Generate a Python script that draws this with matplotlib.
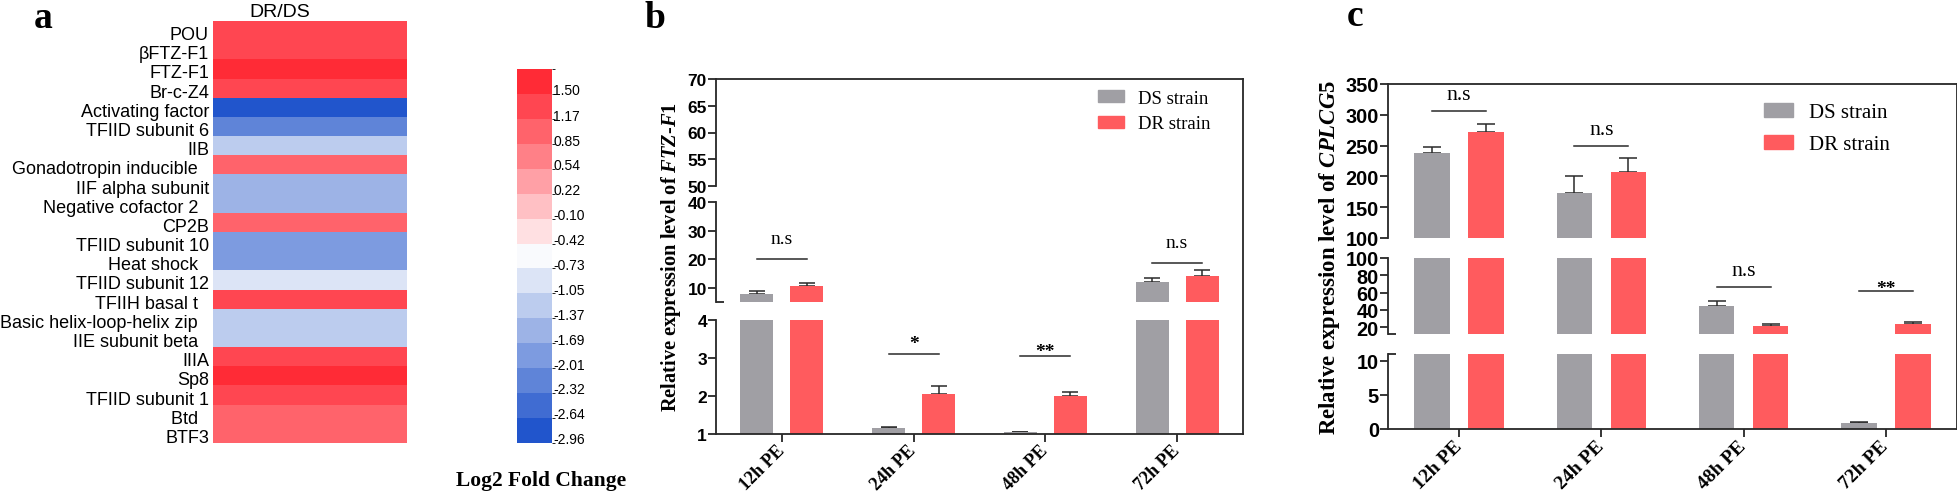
import numpy as np
import matplotlib
matplotlib.use('Agg')
import matplotlib.pyplot as plt
import matplotlib.transforms as mtransforms
from matplotlib.colors import ListedColormap, BoundaryNorm
from matplotlib.cm import ScalarMappable
from matplotlib.patches import Patch
from matplotlib.ticker import FixedLocator

# ---------------- data ----------------
genes = ["POU", "βFTZ-F1", "FTZ-F1", "Br-c-Z4", "Activating factor", "TFIID subunit 6",
         "IIB", "Gonadotropin inducible ", "IIF alpha subunit", "Negative cofactor 2 ",
         "CP2B", "TFIID subunit 10", "Heat shock ", "TFIID subunit 12", "TFIIH basal t ",
         "Basic helix-loop-helix zip ", "IIE subunit beta ", "IIIA", "Sp8",
         "TFIID subunit 1", "Btd ", "BTF3"]
log2fc = [1.17, 1.17, 1.50, 1.17, -2.96, -2.32, -1.37, 0.85, -1.69, -1.69, 0.85,
          -2.01, -2.01, -1.05, 1.17, -1.37, -1.37, 1.17, 1.50, 1.17, 0.85, 0.85]
cbar_ticks = [1.50, 1.17, 0.85, 0.54, 0.22, -0.10, -0.42, -0.73, -1.05, -1.37,
              -1.69, -2.01, -2.32, -2.64, -2.96]
cbar_colors = ["#2155CC", "#406CD2", "#5F84D8", "#7D9BE0", "#9DB3E6", "#BCCCEE",
               "#DCE4F6", "#F9FAFD", "#FFE0E2", "#FFC0C4", "#FFA0A6", "#FF8087",
               "#FF636B", "#FF4651", "#FF2B36"]

timepoints = ["12h PE", "24h PE", "48h PE", "72h PE"]
strains = ["DS strain", "DR strain"]

ftz_ds = [7.9, 1.16, 1.05, 12.1]
ftz_ds_err = [1.1, 0.03, 0.01, 1.4]
ftz_dr = [10.7, 2.05, 2.00, 14.2]
ftz_dr_err = [1.0, 0.22, 0.11, 2.1]
ftz_sig = ["n.s", "*", "**", "n.s"]
ftz_sig_y = [20, 3.1, 3.05, 18.7]

cpl_ds = [238, 173, 45, 0.9]
cpl_ds_err = [10, 28, 5.6, 0.1]
cpl_dr = [272, 207, 21, 23.5]
cpl_dr_err = [13, 23, 2.5, 2.5]
cpl_sig = ["n.s", "n.s", "n.s", "**"]
cpl_sig_y = [306, 249, 67, 62]

# ---------------- style ----------------
W, H = 1958, 502
fig = plt.figure(figsize=(W / 100, H / 100), dpi=100)
plt.rcParams['mathtext.fontset'] = 'custom'
plt.rcParams['mathtext.it'] = 'Liberation Serif:italic:bold'
plt.rcParams['mathtext.rm'] = 'Liberation Serif:bold'

SERIF = 'Liberation Serif'
SANS = 'Liberation Sans'
GRAY = '#A09FA4'
RED = '#FF5B5E'
LINE = '#2a2a2a'
LW = 1.1


def rect(x0, y0, x1, y1):
    return [x0 / W, 1 - y1 / H, (x1 - x0) / W, (y1 - y0) / H]


# ---------------- panel a: heatmap ----------------
cmap = ListedColormap(cbar_colors)
bounds = np.linspace(-3.03, 1.75, 16)
norm = BoundaryNorm(bounds, cmap.N)

axh = fig.add_axes(rect(213, 22, 407, 444))
axh.imshow(np.array(log2fc).reshape(-1, 1), cmap=cmap, norm=norm, aspect='auto',
           interpolation='nearest')
axh.set_xticks([])
axh.set_yticks(range(len(genes)))
axh.set_yticklabels([])
axh.tick_params(axis='y', length=0)
for s in axh.spines.values():
    s.set_visible(False)
base_tr = mtransforms.blended_transform_factory(axh.transAxes, axh.transData)
for i, g in enumerate(genes):
    shift = -6 if g.endswith(' ') else 0
    tr = base_tr + mtransforms.ScaledTranslation((shift - 4) / 100, -2 / 100,
                                                 fig.dpi_scale_trans)
    axh.text(0, i, g, transform=tr, ha='right', va='center_baseline',
             fontfamily=SANS, fontsize=13)
fig.text(280 / W, 1 - 17 / H, "DR/DS", ha='center', va='baseline',
         fontfamily=SANS, fontsize=14)

cax = fig.add_axes(rect(517, 70, 552, 444))
cb = fig.colorbar(ScalarMappable(norm=norm, cmap=cmap), cax=cax, ticks=cbar_ticks)
cb.outline.set_visible(False)
cax.set_yticklabels([f"{v:.2f}" for v in cbar_ticks], fontfamily=SANS, fontsize=10)
cax.tick_params(length=0, pad=1)
fig.text(541 / W, 1 - 486 / H, "Log2 Fold Change", ha='center', va='baseline',
         fontfamily=SERIF, fontweight='bold', fontsize=15.5)

fig.text(43 / W, 1 - 28 / H, "a", ha='center', va='baseline', fontfamily=SERIF,
         fontweight='bold', fontsize=27)
fig.text(655 / W, 1 - 28 / H, "b", ha='center', va='baseline', fontfamily=SERIF,
         fontweight='bold', fontsize=27)
fig.text(1355 / W, 1 - 26 / H, "c", ha='center', va='baseline', fontfamily=SERIF,
         fontweight='bold', fontsize=27)


# ---------------- broken bar panels ----------------
def make_segment(px, ylim, major, minor, tick_fs, bottom=False):
    ax = fig.add_axes(rect(*px))
    ax.set_xlim(-0.5, 3.5)
    ax.set_ylim(*ylim)
    ax.patch.set_alpha(0)
    for s in ['top', 'right', 'bottom']:
        ax.spines[s].set_visible(False)
    ax.spines['left'].set_linewidth(LW * 1.2)
    ax.spines['left'].set_color(LINE)
    ax.set_yticks(major)
    ax.set_yticklabels([str(v) for v in major], fontfamily=SANS, fontweight='bold',
                       fontsize=tick_fs)
    ax.yaxis.set_minor_locator(FixedLocator(minor))
    ax.tick_params(axis='y', which='major', direction='out', length=6,
                   width=LW * 1.2, color=LINE, pad=0.5)
    ax.tick_params(axis='y', which='minor', direction='in', length=6,
                   width=LW * 1.2, color=LINE)
    if bottom:
        ax.spines['bottom'].set_visible(True)
        ax.spines['bottom'].set_linewidth(LW * 1.2)
        ax.spines['bottom'].set_color(LINE)
    else:
        ax.set_xticks([])
    return ax


def bar_panel(box, segs, base, ds, ds_err, dr, dr_err, sig, sig_y, tick_fs, xfs,
              sig_fs, ns_off, star_off, capsize, leg_anchor, leg_fs, leg_kw, ylabel,
              ylab_x, ylab_fs):
    x0, y0, x1, y1 = box
    frame = fig.add_axes(rect(x0, y0, x1, y1))
    frame.set_xticks([]); frame.set_yticks([])
    frame.patch.set_alpha(0)
    for s in ['left', 'bottom']:
        frame.spines[s].set_visible(False)
    for s in ['top', 'right']:
        frame.spines[s].set_linewidth(LW * 1.2)
        frame.spines[s].set_color(LINE)

    axes = []
    for i, (ys0, ys1, ylim, major, minor) in enumerate(segs):
        ax = make_segment((x0, ys0, x1, ys1), ylim, major, minor, tick_fs,
                          bottom=(i == len(segs) - 1))
        axes.append(ax)
    x = np.arange(len(timepoints))
    off, bw = 0.19, 0.25
    for ax in axes:
        ax.bar(x - off, np.array(ds) - base, bottom=base, width=bw, color=GRAY,
               zorder=2)
        ax.bar(x + off, np.array(dr) - base, bottom=base, width=bw, color=RED,
               zorder=2)
        ax.errorbar(x - off, ds, yerr=[np.zeros(len(ds)), ds_err], fmt='none',
                    ecolor=LINE, elinewidth=LW, capsize=capsize, capthick=LW,
                    zorder=1)
        ax.errorbar(x + off, dr, yerr=[np.zeros(len(dr)), dr_err], fmt='none',
                    ecolor=LINE, elinewidth=LW, capsize=capsize, capthick=LW,
                    zorder=1)
    for i, (s, yv) in enumerate(zip(sig, sig_y)):
        ax = [a for a in axes if a.get_ylim()[0] <= yv <= a.get_ylim()[1]][0]
        ax.plot([x[i] - off, x[i] + off], [yv, yv], color=LINE, lw=LW)
        if s == "n.s":
            ax.annotate(s, (x[i], yv), xytext=(0, ns_off), textcoords='offset pixels',
                        ha='center', va='baseline', fontfamily=SERIF, fontsize=sig_fs)
        else:
            ax.annotate(s, (x[i], yv), xytext=(0, star_off[len(s) - 1]),
                        textcoords='offset pixels', ha='center', va='baseline',
                        fontfamily=SERIF, fontweight='bold', fontsize=14)
    bot = axes[-1]
    bot.set_xticks(x)
    bot.set_xticklabels(timepoints, rotation=45, ha='right', va='center',
                        rotation_mode='anchor', fontfamily=SERIF, fontweight='bold',
                        fontsize=xfs)
    bot.tick_params(axis='x', direction='out', length=6, width=LW * 1.2, color=LINE,
                    pad=4)
    handles = [Patch(color=GRAY, label=strains[0]), Patch(color=RED, label=strains[1])]
    fig.legend(handles=handles, loc='upper left',
               bbox_to_anchor=(leg_anchor[0] / W, 1 - leg_anchor[1] / H),
               frameon=False, borderpad=0, borderaxespad=0,
               prop={'family': SERIF, 'size': leg_fs}, **leg_kw)
    fig.text(ylab_x / W, 1 - (y0 + y1) / 2 / H, ylabel, rotation=90, ha='center',
             va='center', fontfamily=SERIF, fontweight='bold', fontsize=ylab_fs)
    return axes


# panel b
bar_panel((716, 80, 1243, 435),
          [(80, 187, (50, 70), [50, 55, 60, 65, 70], [50]),
           (203, 303, (5, 40), [10, 20, 30, 40], [5, 40]),
           (321, 435, (1, 4), [1, 2, 3, 4], [4])],
          1, ftz_ds, ftz_ds_err, ftz_dr, ftz_dr_err, ftz_sig, ftz_sig_y,
          tick_fs=12.5, xfs=13, sig_fs=14, ns_off=16, star_off=(6, 0), capsize=5.5,
          leg_anchor=(1098, 91), leg_fs=13.5,
          leg_kw=dict(handlelength=1.4, handleheight=0.62, handletextpad=0.75,
                      labelspacing=0.44),
          ylabel=r"Relative expression level of $\mathit{FTZ}$-$\mathit{F1}$",
          ylab_x=671, ylab_fs=14.7)

# panel c
bar_panel((1388, 85, 1957, 430),
          [(85, 239, (100, 350), [100, 150, 200, 250, 300, 350], [100]),
           (259, 335, (12, 100), [20, 40, 60, 80, 100], [12, 100]),
           (355, 430, (0, 11), [0, 5, 10], [11])],
          0, cpl_ds, cpl_ds_err, cpl_dr, cpl_dr_err, cpl_sig, cpl_sig_y,
          tick_fs=14.4, xfs=14, sig_fs=15.6, ns_off=12, star_off=(6, -2), capsize=6.5,
          leg_anchor=(1764, 104), leg_fs=15,
          leg_kw=dict(handlelength=1.4, handleheight=0.67, handletextpad=0.77,
                      labelspacing=0.59),
          ylabel=r"Relative expression level of $\mathit{CPLCG5}$",
          ylab_x=1330, ylab_fs=16.4)

fig.savefig("out.png", dpi=100)
